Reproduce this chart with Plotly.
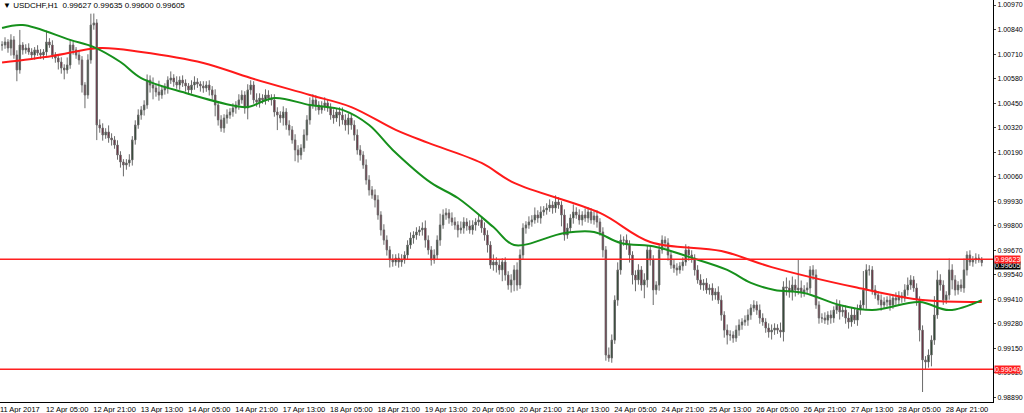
import plotly.graph_objects as go

closes = [
100758,100774,100742,100785,100705,100626,100758,
100732,100742,100721,100705,100732,100716,100705,100721,
100774,100758,
100705,100689,100668,100636,100626,100652,
100758,100732,100705,
100679,100546,100493,
100679,100864,
100875,100334,
100318,100281,100297,100265,100255,100228,
100175,100138,100122,100133,100149,
100255,100334,100387,100414,100440,
100572,100546,
100530,100509,100493,100520,100530,
100572,100583,100562,100546,100572,100556,100541,100520,
100546,100562,100551,100541,100530,100546,100520,
100493,100440,100361,100318,
100371,100387,100403,100424,
100440,100467,100493,100424,100520,100546,
100467,100456,100477,100467,100493,100477,100467,
100403,100387,100371,100403,100334,100308,100255,100202,100175,100212,
100281,100361,100440,
100467,100440,100414,100435,100451,100424,
100387,100371,100403,100387,100361,100334,100371,
100334,100281,100202,100175,
100122,100043,99990,99963,
99937,99857,99778,99724,
99672,99619,99608,99629,99608,99619,99645,
99698,99735,99751,99767,99778,99788,
99724,99672,99619,99645,99724,
99804,99857,99868,99841,99820,
99804,99778,99788,99820,99799,99778,99804,99820,99831,
99788,99751,99698,99592,99608,
99592,99566,99608,99539,99486,99513,99566,99486,
99645,99788,
99804,99820,99831,99857,99841,99873,99884,99894,99910,99894,99926,99910,
99857,99751,
99788,99841,99873,99857,99831,
99857,99841,99873,99831,99852,99820,
99767,99672,
99115,99099,
99194,99406,99566,99724,
99724,99698,99645,99539,99513,
99566,99486,99513,99672,99619,99460,99486,
99672,99724,99709,99645,
99592,99576,99566,99587,99608,
99672,99645,99629,
99566,99513,99486,99497,99460,99470,99433,99449,99406,99327,99247,99221,
99221,99205,99247,99274,99290,
99300,99327,99364,99380,99353,99311,99290,
99258,99237,99247,99258,99247,99237,
99476,
99470,99449,99486,99460,99470,99449,99460,99470,
99566,99539,
99380,99311,
99311,99300,99327,99311,99353,99380,99343,
99353,99311,99290,99327,99300,99353,99380,
99460,99566,99566,
99460,99433,99406,
99380,99396,99406,99380,99417,99406,99428,99417,
99460,99486,99513,99470,
99406,99247,99089,
99078,99115,99194,
99327,99513,
99486,99406,99433,99566,
99513,99460,99486,99470,
99566,99645,
99608,99619,99629,99619,99605,
]

wick_up = [
20,25,15,30,20,25,80,15,20,25, 20,15,25,20,15,60,20,25,15,20,
25,20,40,30,20,15,25,20,15,30, 60,50,20,30,25,20,35,25,20,25,
20,15,20,30,20,25,30,20,25,30, 25,40,20,60,20,25,20,35,20,30,
20,25,20,15,25,30,20,15,25,20, 25,20,30,20,25,20,30,20,25,20,
30,25,20,30,25,20,35,25,20,30, 25,20,30,25,20,30,20,25,20,30,
25,20,30,25,40,30,25,20,25,30, 20,25,30,20,25,40,30,25,20,25,
30,25,20,30,25,20,30,25,20,30, 25,20,30,20,25,30,20,25,30,20,
25,20,30,40,25,20,30,25,60,30, 25,20,30,25,20,35,25,20,30,25,
20,25,20,30,25,20,40,25,30,20, 25,20,30,25,40,30,25,20,30,25,
40,25,30,20,25,30,20,35,25,20, 30,25,20,40,25,30,20,35,25,20,
25,30,20,25,20,40,30,25,40,30, 20,30,25,20,25,30,20,35,25,20,
25,20,30,25,20,25,20,30,25,20, 25,30,20,25,20,25,30,20,25,20,
25,20,30,25,20,30,25,20,25,30, 20,25,30,20,25,20,30,25,20,25,
30,25,20,40,30,50,40,45,30,150, 40,25,30,20,25,30,20,25,30,20,
25,20,30,25,20,25,30,40,35,30, 25,100,30,25,20,25,20,30,25,20,
25,20,30,25,20,30,40,25,20,25, 20,25,20,30,25,100,50,30,25,20,
60,30,25,20,30,60,20,25,20,25, 20,15,
]

wick_dn = [
30,20,25,40,20,60,20,25,20,15, 20,25,15,20,25,20,15,20,25,40,
30,50,20,20,25,20,25,40,70,20, 20,25,80,25,30,20,25,30,20,25,
30,60,25,20,30,25,20,25,30,20, 40,60,25,30,20,25,30,20,25,20,
25,20,30,25,20,25,20,30,25,20, 30,25,60,30,20,25,30,20,25,30,
25,20,30,60,25,20,25,30,20,25, 20,30,25,80,25,40,25,30,20,60,
40,25,20,30,25,20,30,25,20,25, 20,25,30,20,60,25,30,50,25,30,
25,30,20,25,30,20,40,25,30,25, 30,40,25,20,30,25,20,25,20,30,
25,20,30,40,25,30,20,25,30,20, 25,30,20,25,40,20,30,25,20,25,
30,20,25,30,40,20,30,40,25,60, 30,25,40,60,30,20,25,30,20,25,
20,25,30,20,25,20,30,25,20,60, 30,20,25,30,20,25,30,20,25,20,
25,30,20,40,30,20,25,20,30,25, 30,25,40,50,60,25,30,70,40,30,
80,25,30,20,25,30,20,25,30,20, 25,20,30,25,30,20,25,30,20,25,
30,25,20,30,40,50,30,25,20,30, 25,20,30,25,20,25,30,20,25,30,
40,25,20,30,50,40,30,45,35,25, 30,25,20,30,25,20,30,25,20,25,
30,25,20,40,25,30,35,25,20,30, 25,20,100,30,25,20,25,30,20,25,
30,20,25,30,25,20,30,25,20,30, 60,170,40,30,60,25,20,30,25,20,
25,50,30,25,20,25,30,20,25,20, 15,20,
]

ma_red_bars = [0,17,33,47,68,84,104,118,133,144,162,173,202,219,243,260,288,311,331]
ma_red_vals = [100665,100700,100742,100721,100663,100583,100493,100429,100308,100239,
               100133,100027,99868,99714,99666,99581,99475,99406,99396]
ma_green_bars = [0,7,23,31,40,47,62,79,83,92,104,115,124,132,145,154,166,173,190,200,
                 209,221,232,245,253,261,271,283,294,310,320,331]
ma_green_vals = [100848,100864,100785,100747,100668,100583,100504,100435,100429,100477,
                 100440,100414,100334,100202,100027,99947,99793,99698,99762,99767,
                 99709,99688,99635,99566,99497,99460,99444,99380,99353,99396,99353,99406]

tick_labels = ["11 Apr 2017","12 Apr 05:00","12 Apr 21:00","13 Apr 13:00","14 Apr 05:00",
               "14 Apr 21:00","17 Apr 13:00","18 Apr 05:00","18 Apr 21:00","19 Apr 13:00",
               "20 Apr 05:00","20 Apr 21:00","21 Apr 13:00","24 Apr 05:00","24 Apr 21:00",
               "25 Apr 13:00","26 Apr 05:00","26 Apr 21:00","27 Apr 13:00","28 Apr 05:00",
               "28 Apr 21:00"]
price_ticks = [1.00970,1.00840,1.00710,1.00580,1.00450,1.00320,1.00190,1.00060,0.99930,
               0.99800,0.99670,0.99540,0.99410,0.99280,0.99150,0.99020,0.98890]
hlines = [0.99623, 0.99040]
last_price = 0.99605
header = "USDCHF,H1  0.99627 0.99635 0.99600 0.99605"

S = 1e5
n = len(closes)
x = list(range(n))
c = [v / S for v in closes]
o = [c[0]] + c[:-1]
h = [max(o[i], c[i]) + wick_up[i] / S for i in range(n)]
l = [min(o[i], c[i]) - wick_dn[i] / S for i in range(n)]

FONT = "Liberation Sans"
fig = go.Figure()
fig.add_trace(go.Candlestick(
    x=x, open=o, high=h, low=l, close=c, whiskerwidth=0,
    increasing=dict(line=dict(color="#6a6a6a", width=1), fillcolor="#08300e"),
    decreasing=dict(line=dict(color="#6a6a6a", width=1), fillcolor="#700828"),
    showlegend=False, hoverinfo="skip"))
fig.add_trace(go.Scatter(x=ma_red_bars, y=[v / S for v in ma_red_vals], mode="lines",
                         line=dict(color="#ff1a1a", width=2, shape="spline", smoothing=1.0),
                         showlegend=False))
fig.add_trace(go.Scatter(x=ma_green_bars, y=[v / S for v in ma_green_vals], mode="lines",
                         line=dict(color="#16901c", width=2, shape="spline", smoothing=1.0),
                         showlegend=False))
for hv in hlines:
    fig.add_hline(y=hv, line=dict(color="#ff2020", width=1.5))
fig.add_annotation(x=1, xref="paper", xanchor="left", y=last_price, yref="y",
                   text=f"{last_price:.5f}", showarrow=False, bgcolor="black",
                   font=dict(color="white", size=7, family=FONT),
                   borderpad=0, xshift=1, yshift=-3)
for hv in hlines:
    fig.add_annotation(x=1, xref="paper", xanchor="left", y=hv, yref="y",
                       text=f"{hv:.5f}", showarrow=False, bgcolor="#ff2020",
                       font=dict(color="white", size=7, family=FONT),
                       borderpad=0, xshift=1)
fig.add_annotation(x=0, xref="paper", y=1, yref="paper", xanchor="left", yanchor="top",
                   text="▼ " + header, showarrow=False,
                   font=dict(color="black", size=8, family=FONT), xshift=1, yshift=1)

fig.update_layout(
    width=1024, height=413, margin=dict(l=0, r=31, t=0, b=11),
    paper_bgcolor="white", plot_bgcolor="white",
    font=dict(family=FONT, size=8, color="black"),
    xaxis=dict(range=[-0.7, 334.8], rangeslider=dict(visible=False), showgrid=False,
               zeroline=False, showline=True, linecolor="black", linewidth=1,
               tickvals=[16 * i + 6 for i in range(len(tick_labels))], ticktext=tick_labels,
               ticks="", tickangle=0, tickfont=dict(size=7.5, family=FONT), automargin=False,
               ticklabeloverflow="allow"),
    yaxis=dict(range=[0.98866, 1.009965], side="right", showgrid=False, zeroline=False,
               showline=True, linecolor="black", linewidth=1, tickvals=price_ticks,
               ticktext=[f"{t:.5f}" for t in price_ticks], ticks="outside", ticklen=2,
               tickfont=dict(size=7, family=FONT), automargin=False),
)
fig.write_html("out.html", config={"displayModeBar": False},
               post_script="document.body.style.margin='0';document.body.style.overflow='hidden';")
